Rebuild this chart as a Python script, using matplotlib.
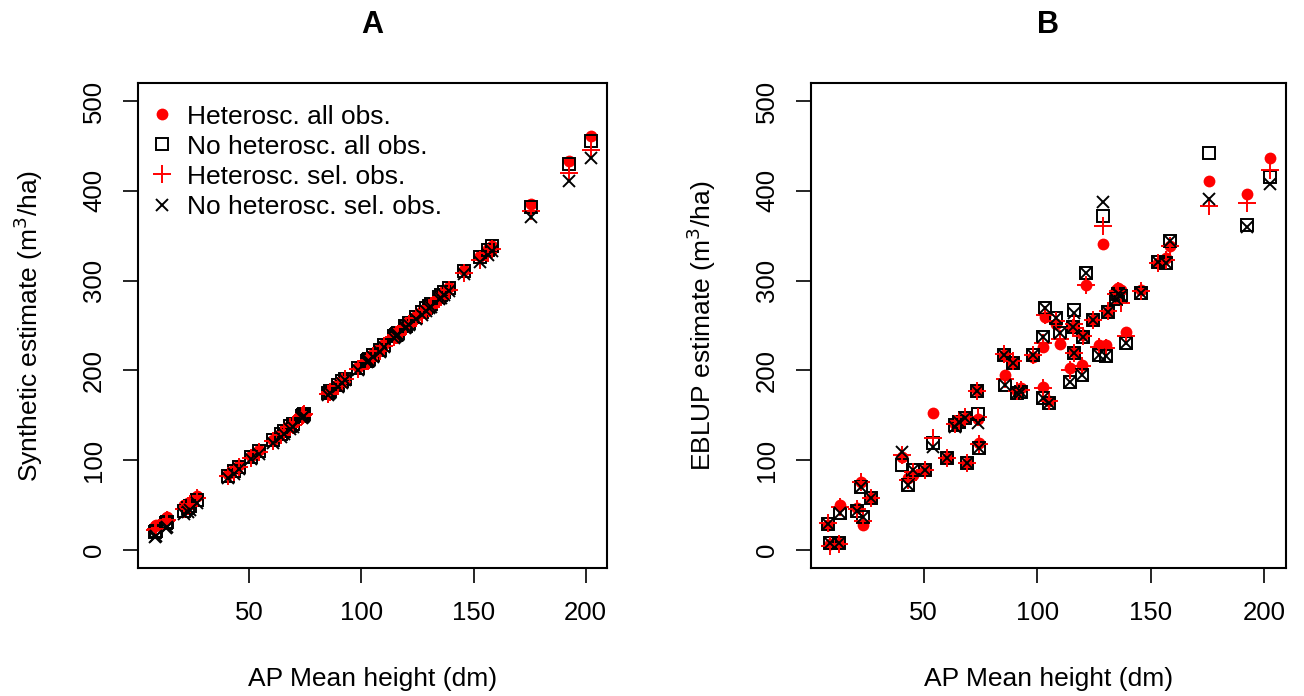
import matplotlib
matplotlib.use("Agg")
import matplotlib.pyplot as plt

plt.rcParams['font.family'] = ['Liberation Sans', 'DejaVu Sans']

# AP mean height (dm) of each plot
height = [8.0, 8.6, 12.8, 13.3, 20.8, 22.5, 23.4, 26.9, 40.6, 43.2,
          45.5, 50.7, 54.3, 60.5, 64.0, 65.5, 68.4, 69.3, 73.7, 74.1,
          74.5, 85.2, 86.0, 89.6, 91.3, 92.7, 98.4, 102.4, 102.8, 103.3,
          105.3, 108.1, 110.3, 114.7, 115.6, 116.1, 116.3, 119.6, 120.1, 121.4,
          124.5, 127.1, 128.9, 130.2, 131.1, 134.6, 135.5, 136.8, 139.0, 145.6,
          153.1, 156.6, 158.4, 175.6, 192.4, 202.5]

# Panel A: synthetic estimates
synth_het_all = [27, 28, 36, 37, 50, 52, 54, 60, 85, 90,
                 95, 105, 111, 123, 130, 133, 139, 141, 150, 151,
                 152, 176, 178, 185, 189, 192, 204, 212, 213, 214,
                 218, 224, 229, 239, 241, 242, 243, 250, 251, 254,
                 261, 266, 270, 273, 275, 283, 285, 288, 293, 312,
                 327, 335, 339, 385, 433, 461]
synth_nohet_all = [20, 21, 30, 31, 44, 47, 49, 56, 83, 88,
                   93, 104, 110, 122, 129, 132, 138, 140, 149, 150,
                   151, 175, 177, 184, 188, 191, 203, 211, 212, 213,
                   217, 223, 228, 238, 240, 241, 242, 249, 250, 253,
                   260, 265, 269, 272, 274, 282, 284, 287, 292, 311,
                   326, 334, 338, 382, 430, 455]
synth_het_sel = [22, 23, 32, 33, 46, 49, 51, 58, 82, 87,
                 92, 103, 109, 121, 128, 131, 137, 139, 149, 150,
                 151, 174, 176, 183, 187, 190, 202, 210, 211, 212,
                 216, 222, 227, 237, 239, 240, 241, 248, 249, 252,
                 258, 263, 267, 270, 272, 280, 282, 285, 289, 308,
                 323, 331, 335, 377, 420, 445]
synth_nohet_sel = [15, 16, 25, 26, 40, 42, 45, 52, 80, 85,
                   90, 101, 107, 119, 126, 129, 135, 137, 147, 148,
                   149, 173, 175, 182, 186, 189, 201, 209, 210, 211,
                   215, 221, 226, 236, 238, 239, 240, 247, 248, 251,
                   257, 262, 266, 269, 271, 279, 281, 284, 288, 307,
                   321, 329, 333, 371, 411, 437]

# Panel B: EBLUP estimates
eblup_het_all = [28, 7, 8, 50, 47, 76, 28, 58, 104, 80,
                 84, 89, 153, 103, 140, 143, 147, 97, 178, 146,
                 119, 217, 195, 208, 177, 180, 215, 181, 226, 259,
                 166, 252, 229, 203, 248, 247, 220, 206, 240, 295,
                 256, 228, 341, 228, 265, 290, 292, 290, 243, 290,
                 320, 325, 338, 411, 396, 437]
eblup_nohet_all = [29, 8, 8, 41, 44, 70, 37, 58, 95, 72,
                   89, 89, 119, 102, 139, 143, 147, 97, 177, 152,
                   114, 217, 184, 208, 175, 176, 217, 169, 237, 270,
                   164, 258, 242, 187, 248, 267, 219, 195, 237, 308,
                   256, 217, 372, 216, 265, 280, 285, 283, 230, 286,
                   321, 320, 344, 442, 362, 415]
eblup_het_sel = [30, 5, 7, 48, 46, 76, 32, 58, 106, 78,
                 87, 89, 125, 103, 140, 144, 148, 97, 177, 148,
                 118, 218, 190, 210, 177, 178, 217, 180, 230, 262,
                 166, 255, 235, 200, 247, 252, 219, 205, 238, 295,
                 256, 226, 361, 225, 266, 285, 288, 275, 238, 288,
                 320, 323, 338, 383, 386, 423]
eblup_nohet_sel = [29, 8, 8, 41, 44, 70, 37, 58, 109, 72,
                   89, 89, 115, 102, 137, 143, 147, 97, 177, 141,
                   114, 217, 184, 208, 175, 176, 217, 169, 237, 270,
                   164, 258, 242, 187, 248, 264, 219, 195, 237, 308,
                   256, 217, 388, 216, 265, 280, 285, 283, 230, 286,
                   321, 320, 344, 391, 360, 408]

labels = ["Heterosc. all obs.", "No heterosc. all obs.",
          "Heterosc. sel. obs.", "No heterosc. sel. obs."]

FS = 19


def draw(ax, series, title, ylab, legend=False):
    a, b, c, d = series
    ax.plot(height, a, 'o', color='red', ms=8.5, mew=0, label=labels[0])
    ax.plot(height, b, 's', mfc='none', mec='black', ms=8, mew=1.4, label=labels[1])
    ax.plot(height, c, '+', color='red', ms=13, mew=1.4, label=labels[2])
    ax.plot(height, d, 'x', color='black', ms=9, mew=1.4, label=labels[3])
    ax.set_xlim(0.4, 209.5)
    ax.set_ylim(-20, 520)
    ax.set_xticks([50, 100, 150, 200])
    ax.set_yticks([0, 100, 200, 300, 400, 500])
    ax.tick_params(axis='both', labelsize=18.5, length=11, width=1.2, direction='out')
    ax.tick_params(axis='x', pad=13)
    ax.tick_params(axis='y', pad=12)
    for lab in ax.get_yticklabels():
        lab.set_rotation(90)
        lab.set_va('center')
    for s in ax.spines.values():
        s.set_linewidth(1.5)
    ax.set_xlabel("AP Mean height (dm)", fontsize=FS, labelpad=30)
    ax.set_ylabel(ylab, fontsize=FS, labelpad=27)
    ax.set_title(title, fontsize=22, fontweight='bold', pad=36)
    if legend:
        ax.legend(loc='upper left', bbox_to_anchor=(0.0, 0.972), frameon=False,
                  fontsize=FS, handlelength=1.2, handletextpad=0.35,
                  labelspacing=0.23, borderaxespad=0.0, borderpad=0.3)


fig = plt.figure(figsize=(13.04, 6.96), dpi=100)
ax1 = fig.add_axes([0.1058, 0.1839, 0.3597, 0.6968])
ax2 = fig.add_axes([0.6219, 0.1839, 0.3641, 0.6968])

draw(ax1, (synth_het_all, synth_nohet_all, synth_het_sel, synth_nohet_sel),
     "A", "Synthetic estimate (m$^3$/ha)", legend=True)
draw(ax2, (eblup_het_all, eblup_nohet_all, eblup_het_sel, eblup_nohet_sel),
     "B", "EBLUP estimate (m$^3$/ha)")

fig.savefig("out.png", dpi=100)
